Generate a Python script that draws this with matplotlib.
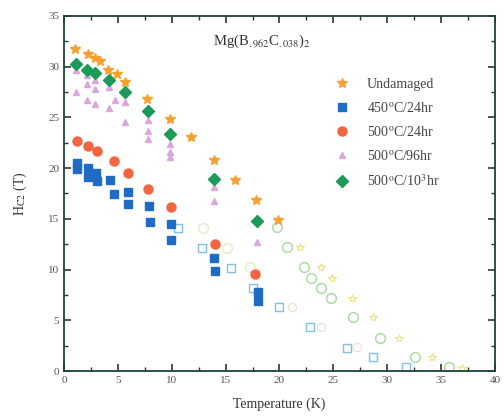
import numpy as np
import matplotlib
matplotlib.use("Agg")
import matplotlib.pyplot as plt
from matplotlib.ticker import MultipleLocator

plt.rcParams['font.family'] = ['Liberation Serif', 'DejaVu Serif']
plt.rcParams['mathtext.fontset'] = 'stix'

# --- filled series (in legend) ---
undam_T = [1.05, 2.2, 2.85, 3.3, 4.1, 4.9, 5.7, 7.75, 9.85, 11.8, 13.9, 15.9, 17.8, 19.9]
undam_H = [31.7, 31.2, 30.8, 30.5, 29.7, 29.3, 28.5, 26.8, 24.8, 23.1, 20.8, 18.8, 16.9, 14.9]

sq450_T = [1.2, 1.2, 2.2, 2.2, 3.0, 3.1, 4.3, 4.65, 5.9, 5.9, 7.9, 8.0, 9.9, 9.9, 13.9, 14.0, 18.0, 18.0]
sq450_H = [20.5, 19.9, 20.0, 19.1, 19.5, 18.7, 18.8, 17.4, 17.6, 16.5, 16.3, 14.7, 14.5, 12.9, 11.1, 9.9, 7.8, 6.9]

c500_24_T = [1.2, 2.2, 3.1, 4.6, 5.9, 7.8, 9.9, 14.0, 17.7]
c500_24_H = [22.7, 22.2, 21.7, 20.7, 19.5, 17.9, 16.2, 12.5, 9.6]

t500_96_T = [1.1, 1.1, 2.1, 2.1, 2.1, 2.9, 2.9, 2.9, 4.2, 4.2, 4.7, 5.7, 5.7,
             7.8, 7.8, 7.8, 9.8, 9.8, 9.8, 13.9, 13.9, 17.9]
t500_96_H = [29.7, 27.5, 29.2, 28.3, 26.7, 28.7, 27.8, 26.3, 28.0, 25.9, 26.7, 26.5, 24.5,
             24.7, 23.7, 22.9, 22.4, 21.6, 21.1, 18.1, 16.8, 12.7]

d500_1e3_T = [1.1, 2.1, 2.9, 4.2, 5.7, 7.8, 9.8, 13.9, 17.9]
d500_1e3_H = [30.3, 29.7, 29.4, 28.7, 27.5, 25.6, 23.4, 18.9, 14.75]

# --- open series (not in legend) ---
osq_T = [10.6, 12.8, 15.5, 17.5, 20.0, 22.8, 26.3, 28.7, 31.7]
osq_H = [14.1, 12.1, 10.2, 8.2, 6.3, 4.3, 2.3, 1.35, 0.36]

ocirc_T = [19.8, 20.7, 22.3, 22.9, 23.9, 24.8, 26.8, 29.3, 32.6, 35.7]
ocirc_H = [14.2, 12.2, 10.3, 9.2, 8.2, 7.2, 5.3, 3.3, 1.4, 0.4]

ocirc2_T = [12.9, 15.1, 17.3]
ocirc2_H = [14.1, 12.1, 10.3]

ostar_T = [21.9, 23.9, 24.9, 26.7, 28.7, 31.1, 34.2, 36.9]
ostar_H = [12.2, 10.3, 9.2, 7.2, 5.3, 3.3, 1.35, 0.3]

oorg_T = [21.2, 23.9, 27.2]
oorg_H = [6.3, 4.3, 2.4]

fig = plt.figure(figsize=(5.04, 4.16), dpi=100)
ax = fig.add_axes([0.127, 0.108, 0.855, 0.854])

# open markers first
ax.plot(osq_T, osq_H, 's', ms=6, mfc='none', mec='#7fbfea', mew=1.0)
ax.plot(ocirc_T, ocirc_H, 'o', ms=7, mfc='none', mec='#a8d8a0', mew=1.0)
ax.plot(ocirc2_T, ocirc2_H, 'o', ms=7, mfc='none', mec='#e4eccc', mew=1.0)
ax.plot(ostar_T, ostar_H, '*', ms=6, mfc='none', mec='#e8e488', mew=0.8)
ax.plot(oorg_T, oorg_H, 'o', ms=6, mfc='none', mec='#f0dcd0', mew=0.8)

ax.plot(undam_T, undam_H, '*', ms=7, color='#f5a030', ls='none', label='Undamaged')
ax.plot(sq450_T, sq450_H, 's', ms=6, color='#1f6cc4', ls='none', label='450$^{\\rm o}$C/24hr')
ax.plot(c500_24_T, c500_24_H, 'o', ms=6.5, color='#f26540', ls='none', label='500$^{\\rm o}$C/24hr')
ax.plot(t500_96_T, t500_96_H, '^', ms=5, color='#dba6dc', ls='none', label='500$^{\\rm o}$C/96hr')
ax.plot(d500_1e3_T, d500_1e3_H, 'D', ms=6.5, color='#1b9a58', ls='none', label='500$^{\\rm o}$C/10$^{3}$hr')

ax.set_xlim(0, 40)
ax.set_ylim(0, 35)
ax.xaxis.set_major_locator(MultipleLocator(5))
ax.xaxis.set_minor_locator(MultipleLocator(2.5))
ax.yaxis.set_major_locator(MultipleLocator(5))
ax.yaxis.set_minor_locator(MultipleLocator(2.5))
ax.tick_params(which='both', direction='in', top=True, right=True,
               colors='#333333', labelcolor='#555555', labelsize=8)
ax.tick_params(which='major', length=5, width=1.2)
ax.tick_params(which='minor', length=3, width=1.0)
for s in ax.spines.values():
    s.set_color('#20403c')
    s.set_linewidth(1.3)

ax.set_xlabel('Temperature (K)', fontsize=10, color='#333333', labelpad=9)
ax.set_ylabel('H$_{\\rm C2}$ (T)', fontsize=10, color='#333333', labelpad=14)

ax.text(0.346, 0.927, 'Mg(B$_{.962}$C$_{.038}$)$_2$', transform=ax.transAxes,
        fontsize=10.5, color='#333333', va='center')

leg = ax.legend(loc='upper left', bbox_to_anchor=(0.6, 0.86), frameon=False,
                fontsize=10, handletextpad=1.3, labelspacing=0.72,
                handlelength=1.0, labelcolor='#444444')

fig.savefig('out.png', dpi=100)
